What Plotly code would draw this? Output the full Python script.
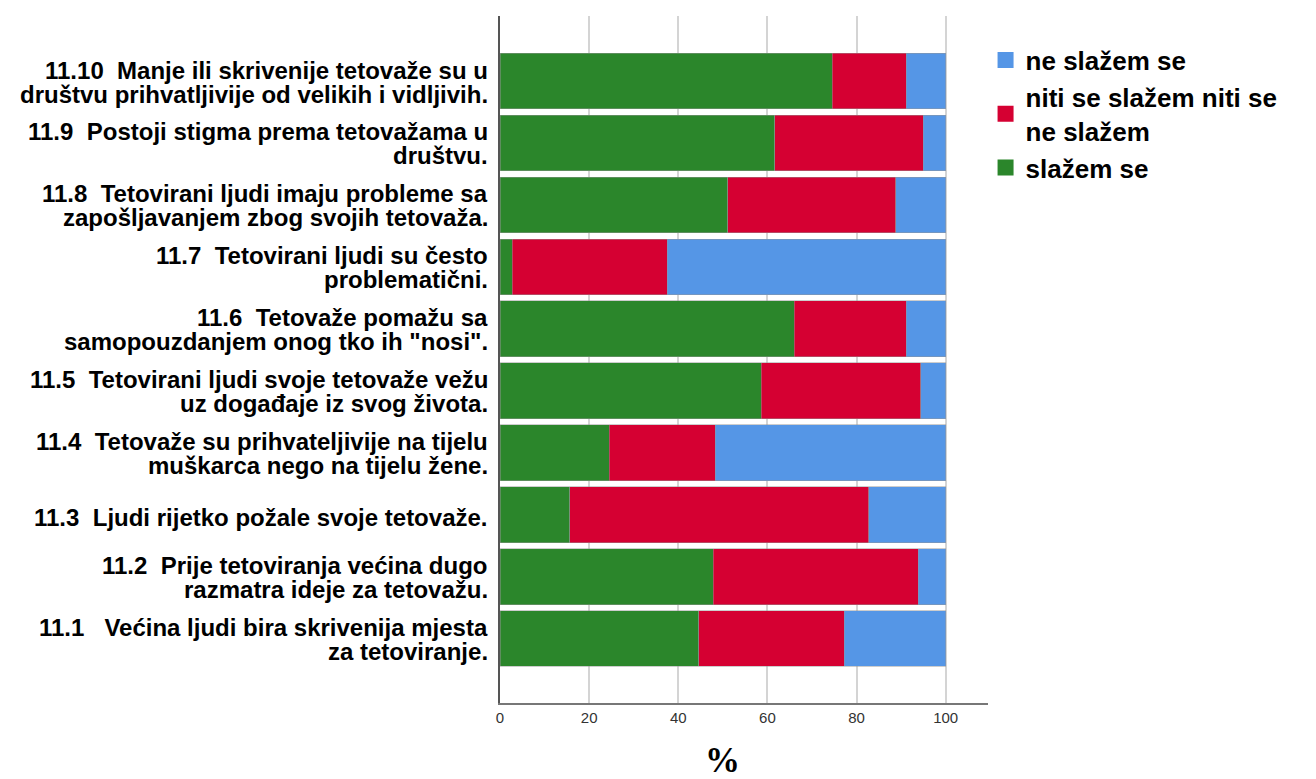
import plotly.graph_objects as go

categories = [
    "11.1   Većina ljudi bira skrivenija mjesta<br>za tetoviranje.",
    "11.2  Prije tetoviranja većina dugo<br>razmatra ideje za tetovažu.",
    "11.3  Ljudi rijetko požale svoje tetovaže.",
    "11.4  Tetovaže su prihvateljivije na tijelu<br>muškarca nego na tijelu žene.",
    "11.5  Tetovirani ljudi svoje tetovaže vežu<br>uz događaje iz svog života.",
    "11.6  Tetovaže pomažu sa<br>samopouzdanjem onog tko ih \"nosi\".",
    "11.7  Tetovirani ljudi su često<br>problematični.",
    "11.8  Tetovirani ljudi imaju probleme sa<br>zapošljavanjem zbog svojih tetovaža.",
    "11.9  Postoji stigma prema tetovažama u<br>društvu.",
    "11.10  Manje ili skrivenije tetovaže su u<br>društvu prihvatljivije od velikih i vidljivih.",
]
slazem = [44.6, 47.8, 15.6, 24.5, 58.6, 66.0, 2.8, 51.1, 61.7, 74.6]
niti = [32.6, 46.1, 67.1, 23.8, 35.8, 25.1, 34.7, 37.7, 33.3, 16.5]
ne_slazem = [22.8, 6.1, 17.3, 51.7, 5.6, 8.9, 62.5, 11.2, 5.0, 8.9]

series_names = ["slažem se", "niti se slažem niti se<br>ne slažem", "ne slažem se"]
colors = ["#2B862B", "#D50032", "#5596E6"]
x_ticks = [0, 20, 40, 60, 80, 100]

ids = ["Q" + c.split("<br>")[0].split(" ")[0] for c in categories]

fig = go.Figure()
for name, vals, col in zip(series_names, [slazem, niti, ne_slazem], colors):
    fig.add_trace(go.Bar(
        y=ids, x=vals, orientation="h", name=name,
        marker=dict(color=col, line=dict(color="rgba(150,150,150,0.6)", width=0.8)),
        width=0.9, showlegend=False,
    ))
for name, col in zip(series_names, colors):
    fig.add_trace(go.Scatter(
        x=[None], y=[None], mode="markers", name="<b>" + name + "</b>",
        marker=dict(symbol="square", size=16, color=col),
    ))

annotations = []
for i, lab in enumerate(categories):
    lines = lab.split("<br>")
    if len(lines) == 1:
        shifts = [-3]
    else:
        shifts = [11, -13]
    for ln, sh in zip(lines, shifts):
        annotations.append(dict(
            x=0, xref="paper", y=i, yref="y", text="<b>" + ln + "</b>",
            showarrow=False, xanchor="right", yanchor="middle",
            xshift=-10, yshift=sh,
            font=dict(family="Liberation Sans, Arial", size=24, color="#000"),
        ))
annotations.append(dict(
    x=50, xref="x", y=-0.084, yref="paper", text="<b>%</b>", showarrow=False,
    xanchor="center", yanchor="middle",
    font=dict(family="Liberation Serif, Times New Roman", size=35, color="#000"),
))

fig.update_layout(
    width=1308, height=771,
    margin=dict(l=492, r=328, t=8, b=76),
    paper_bgcolor="white", plot_bgcolor="white",
    barmode="stack", bargap=0.1,
    annotations=annotations,
    legend=dict(
        x=0.995, y=0.97, xanchor="left", yanchor="top",
        traceorder="reversed",
        font=dict(family="Liberation Sans, Arial", size=26, color="#000"),
        itemwidth=30, tracegroupgap=0,
    ),
    xaxis=dict(
        range=[0, 109.5], tickvals=x_ticks, ticktext=[str(t) for t in x_ticks],
        showgrid=True, gridcolor="#D4D4D4", gridwidth=1.5,
        showline=True, linecolor="#777", linewidth=1.5,
        zeroline=False, ticks="",
        tickfont=dict(family="Liberation Sans, Arial", size=15, color="#333"),
    ),
    yaxis=dict(
        type="category", categoryorder="array", categoryarray=ids,
        range=[-1.04, 10.05], showticklabels=False, showgrid=False,
        showline=True, linecolor="#555", linewidth=1.5, ticks="",
        zeroline=False,
    ),
)
fig.write_html("out.html")
